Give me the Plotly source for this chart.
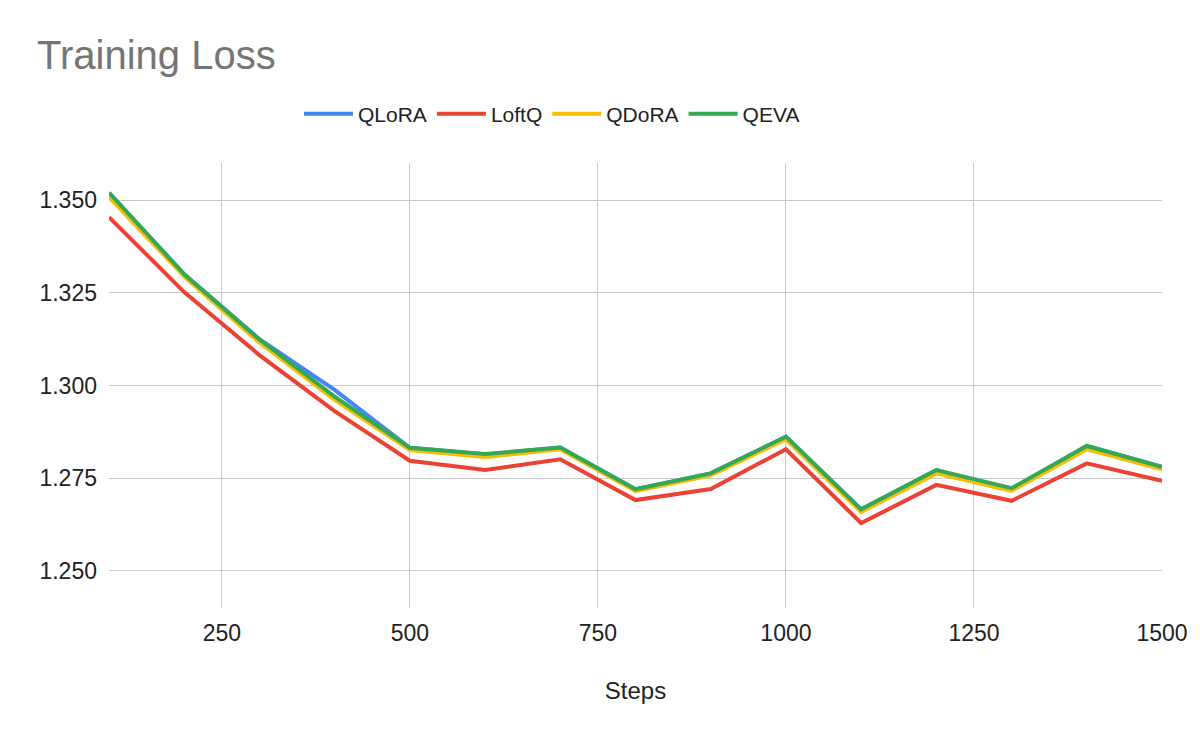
#!/usr/bin/env python3
"""Training loss curves for the four quantised fine-tuning methods."""

import plotly.graph_objects as go

steps = [100, 200, 300, 400, 500, 600, 700, 800, 900, 1000, 1100, 1200, 1300, 1400, 1500]

qlora = [1.3519, 1.3300, 1.3125, 1.2988, 1.2832, 1.2814, 1.2833, 1.2720, 1.2763,
         1.2862, 1.2666, 1.2772, 1.2719, 1.2837, 1.2781]
loftq = [1.3454, 1.3252, 1.3082, 1.2931, 1.2797, 1.2772, 1.2801, 1.2691, 1.2721,
         1.2828, 1.2629, 1.2732, 1.2689, 1.2790, 1.2743]
qdora = [1.3508, 1.3294, 1.3116, 1.2961, 1.2826, 1.2807, 1.2828, 1.2715, 1.2758,
         1.2855, 1.2659, 1.2763, 1.2716, 1.2828, 1.2774]
qeva = [1.3520, 1.3300, 1.3124, 1.2970, 1.2832, 1.2815, 1.2833, 1.2720, 1.2763,
        1.2862, 1.2666, 1.2772, 1.2723, 1.2837, 1.2781]

series = [
    ("QLoRA", qlora, "#4285F4"),
    ("LoftQ", loftq, "#EA4335"),
    ("QDoRA", qdora, "#FBBC04"),
    ("QEVA", qeva, "#34A853"),
]

FONT = "Liberation Sans, Arial, sans-serif"
# the page body keeps its default 8px margin, so the figure is drawn 8px in
PAD = 8

fig = go.Figure()
for name, values, color in series:
    fig.add_trace(go.Scatter(
        x=steps, y=values, name=name, mode="lines",
        line=dict(color=color, width=4),
    ))

fig.update_layout(
    width=1200 - PAD, height=742 - PAD,
    paper_bgcolor="white", plot_bgcolor="white",
    font=dict(family=FONT, size=23, color="#222222"),
    margin=dict(l=109 - PAD, r=38 - PAD, t=163 - PAD, b=134),
    title=dict(
        text="Training Loss", font=dict(size=40, color="#757575"),
        x=(37 - PAD) / (1200 - PAD), xanchor="left", xref="container",
        y=1 - (55 - PAD) / (742 - PAD), yanchor="middle", yref="container",
    ),
    legend=dict(
        orientation="h", x=(552 - 109) / 1053, xanchor="center",
        y=1 + (163 - 114) / 445, yanchor="middle",
        font=dict(size=21, color="#222222"),
        itemwidth=49,
    ),
    showlegend=True,
)

fig.update_xaxes(
    range=[100, 1500], tick0=0, dtick=250,
    showgrid=True, gridcolor="#c8c8c8", gridwidth=1,
    zeroline=False, showline=False, ticks="",
    ticklabelstandoff=9,
    title=dict(text="Steps", font=dict(size=24), standoff=37),
)
fig.update_yaxes(
    range=[1.24, 1.36], tick0=1.25, dtick=0.025, tickformat=".3f",
    showgrid=True, gridcolor="#c8c8c8", gridwidth=1,
    zeroline=False, showline=False, ticks="",
    ticklabelstandoff=11,
)

fig.write_html("out.html")
